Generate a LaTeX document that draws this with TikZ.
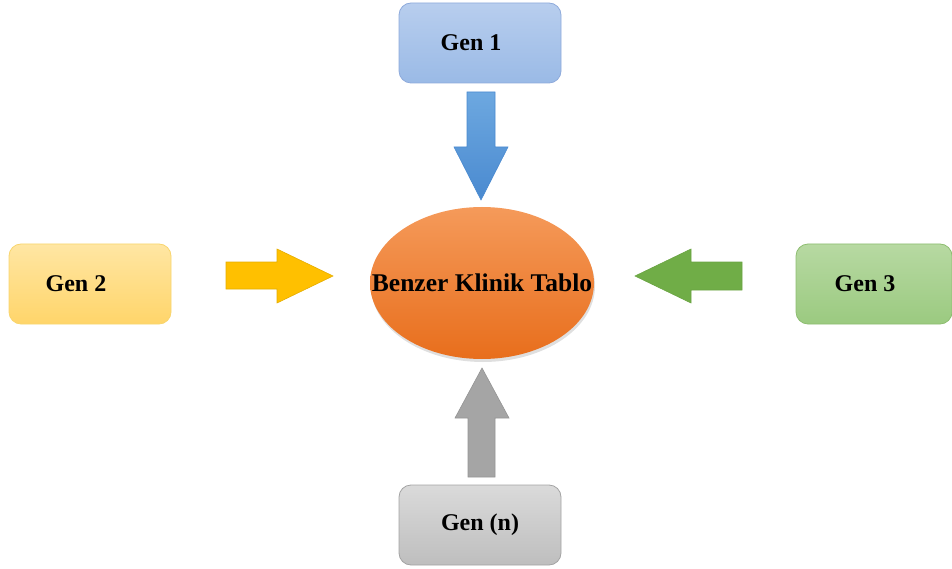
\documentclass[tikz,border=0pt]{standalone}
\usepackage{fontspec}
\setmainfont{Liberation Serif}
\usepackage{tikz}
\usetikzlibrary{positioning, shapes, calc, shadows}

\definecolor{blueTop}{HTML}{B8CEEE}
\definecolor{blueBot}{HTML}{9ABAE6}
\definecolor{blueLine}{HTML}{8EAADB}
\definecolor{yelTop}{HTML}{FFE6A3}
\definecolor{yelBot}{HTML}{FFD56A}
\definecolor{yelLine}{HTML}{F8D56E}
\definecolor{grnTop}{HTML}{B7D9A2}
\definecolor{grnBot}{HTML}{9BCA80}
\definecolor{grnLine}{HTML}{8DBD70}
\definecolor{gryTop}{HTML}{DADADA}
\definecolor{gryBot}{HTML}{BEBEBE}
\definecolor{gryLine}{HTML}{A3A3A3}
\definecolor{orgTop}{HTML}{F59A5A}
\definecolor{orgBot}{HTML}{E86E1C}
\definecolor{arrBlueTop}{HTML}{6DA8E0}
\definecolor{arrBlueBot}{HTML}{4A8AD0}
\definecolor{arrYel}{HTML}{FFC000}
\definecolor{arrGrn}{HTML}{70AD47}
\definecolor{arrGry}{HTML}{A5A5A5}

\tikzset{
  genbox/.style={draw, line width=0.8pt, rounded corners=12pt,
    minimum width=162pt, minimum height=80pt, inner sep=0pt,
    font=\fontsize{24}{28}\selectfont\bfseries},
  blockarr/.style={line width=0.6pt}
}

\begin{document}
\begin{tikzpicture}[x=1pt, y=-1pt]
        \useasboundingbox (0,0) rectangle (952,569);

        \node[genbox, draw=blueLine, top color=blueTop, bottom color=blueBot] (g1) at (480,43) {Gen 1\hspace*{18pt}};
        \node[genbox, draw=yelLine, top color=yelTop, bottom color=yelBot] (g2) at (90,284) {Gen 2\hspace*{28pt}};
        \node[genbox, draw=grnLine, top color=grnTop, bottom color=grnBot, minimum width=156pt] (g3) at (874,284) {Gen 3\hspace*{18pt}};
        \node[genbox, draw=gryLine, top color=gryTop, bottom color=gryBot] (gn) at (480,525) {Gen (n)};

        \node[ellipse, minimum width=224pt, minimum height=152pt, inner sep=0pt,
              top color=orgTop, bottom color=orgBot,
              drop shadow={opacity=0.25, shadow xshift=1pt, shadow yshift=-3pt},
              font=\fontsize{25.5}{30}\selectfont\bfseries] (tablo) at (482,283) {\makebox[0pt]{Benzer Klinik Tablo}};

        % block arrows
        \path[blockarr, draw=arrBlueBot, top color=arrBlueTop, bottom color=arrBlueBot]
          (467,92) -- (495,92) -- (495,147) -- (508,147) -- (481,200) -- (454,147) -- (467,147) -- cycle;
        \path[blockarr, draw=arrYel!90!black, fill=arrYel]
          (226,262) -- (277,262) -- (277,249) -- (333,276) -- (277,303) -- (277,289) -- (226,289) -- cycle;
        \path[blockarr, draw=arrGrn!95!black, fill=arrGrn]
          (742,262) -- (691,262) -- (691,249) -- (635,276) -- (691,303) -- (691,290) -- (742,290) -- cycle;
        \path[blockarr, draw=arrGry!90!black, fill=arrGry]
          (468,477) -- (495,477) -- (495,418) -- (509,418) -- (482,368) -- (455,418) -- (468,418) -- cycle;
\end{tikzpicture}
\end{document}
